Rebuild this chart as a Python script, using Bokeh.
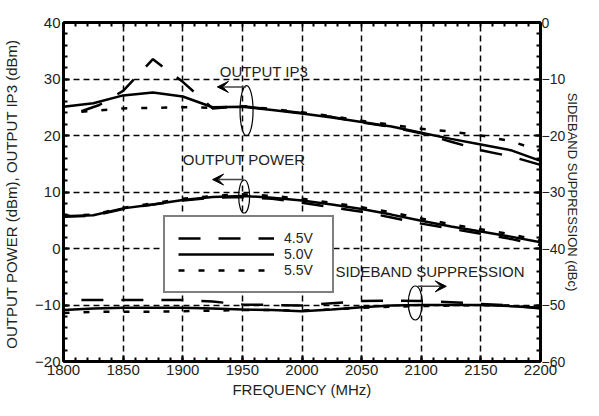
from bokeh.plotting import figure
from bokeh.models import (Range1d, LinearAxis, SingleIntervalTicker, FixedTicker, Legend, LegendItem,
                          Label, Arrow, VeeHead)
from bokeh.embed import file_html
from bokeh.resources import INLINE

FONT = "Liberation Sans"
TXT = "#231f20"

# ---------------- data ----------------
freq = [1800, 1825, 1850, 1875, 1900, 1925, 1950, 1975, 2000, 2025, 2050, 2075, 2100, 2125, 2150, 2175, 2200]

ip3_50 = [25.1, 25.7, 27.1, 27.6, 26.9, 25.0, 25.1, 24.5, 23.9, 23.2, 22.4, 21.6, 20.5, 19.4, 18.4, 17.4, 15.5]
freq_ip3_45 = [1815, 1830, 1850, 1875, 1900, 1925, 1950, 1975, 2000, 2025, 2050, 2075, 2100, 2125, 2150, 2175, 2200]
ip3_45 = [24.3, 25.4, 27.9, 33.5, 29.5, 24.8, 25.2, 24.6, 24.0, 23.3, 22.3, 21.5, 20.4, 18.9, 17.4, 16.3, 14.8]
freq_ip3_55 = [1815, 1850, 1875, 1900, 1925, 1950, 1975, 2000, 2025, 2050, 2075, 2100, 2125, 2150, 2175, 2200]
ip3_55 = [24.2, 24.8, 24.9, 25.0, 24.9, 25.2, 24.7, 24.1, 23.4, 22.6, 21.9, 21.2, 20.7, 20.0, 19.0, 17.3]

pout_50 = [5.7, 5.9, 7.1, 7.8, 8.6, 9.1, 9.3, 9.0, 8.5, 7.8, 7.0, 6.0, 4.9, 3.9, 3.0, 2.1, 1.1]
pout_45 = [5.6, 5.8, 7.0, 7.8, 8.5, 9.0, 9.1, 8.8, 8.1, 7.3, 6.5, 5.5, 4.4, 3.5, 2.6, 1.7, 0.6]
pout_55 = [5.8, 6.0, 7.2, 8.0, 8.8, 9.3, 9.6, 9.3, 8.8, 8.1, 7.3, 6.4, 5.3, 4.3, 3.4, 2.5, 1.4]

sb_50 = [-50.9, -50.6, -50.5, -50.5, -50.5, -50.6, -50.8, -50.9, -51.1, -50.8, -50.4, -50.1, -50.0, -50.0, -50.0, -50.2, -50.5]
freq_sb_45 = [1815, 1850, 1875, 1900, 1925, 1950, 1975, 2000, 2025, 2050, 2075, 2100, 2125, 2150, 2175, 2200]
sb_45 = [-49.1, -49.1, -49.1, -49.1, -49.4, -49.9, -50.0, -50.1, -49.7, -49.3, -49.2, -49.3, -49.5, -49.8, -50.1, -50.6]
sb_55 = [-51.4, -51.2, -51.2, -51.2, -51.1, -51.0, -50.9, -50.9, -51.0, -50.8, -50.5, -50.3, -50.2, -50.1, -50.0, -50.1, -50.4]

legend_labels = ["4.5V", "5.0V", "5.5V"]
top_ticks = list(range(1800, 2201, 10))

# annotations (data units, left axis)
ann_text = ["OUTPUT IP3", "OUTPUT POWER", "SIDEBAND SUPPRESSION"]
ann_x = [1931, 1900, 2028]
ann_y = [31.4, 15.7, -4.0]
arrow_x0 = [1953, 1951, 2097]
arrow_x1 = [1929, 1925, 2121]
arrow_y = [28.6, 12.2, -6.7]
ell_x = [1953.5, 1951.5, 2095]
ell_y = [24.4, 9.2, -9.65]
ell_w = [13, 11, 14]
ell_h = [50, 33, 34]

# ---------------- figure ----------------
p = figure(width=583, height=400, output_backend="svg", toolbar_location=None,
           x_range=Range1d(1800, 2200), y_range=Range1d(-20, 40),
           min_border_left=0, min_border_right=0, min_border_top=22, min_border_bottom=0,
           background_fill_color="white", border_fill_color="white")
p.extra_y_ranges = {"sb": Range1d(-60, 0)}
p.outline_line_color = "black"
p.outline_line_width = 2

bottom = p.below[0]
left = p.left[0]

xt = SingleIntervalTicker(interval=50, num_minor_ticks=5)
yt = SingleIntervalTicker(interval=10, num_minor_ticks=5)
yt2 = SingleIntervalTicker(interval=10, num_minor_ticks=5)

bottom.ticker = xt
left.ticker = yt
p.xgrid.ticker = xt
p.ygrid.ticker = yt

for g in (p.xgrid, p.ygrid):
    g.grid_line_color = "black"
    g.grid_line_dash = "6 4"
    g.grid_line_width = 1.5
    g.grid_line_alpha = 1.0

right = LinearAxis(y_range_name="sb", ticker=yt2, axis_label="SIDEBAND SUPPRESSION (dBc)")
top = LinearAxis(ticker=FixedTicker(ticks=[], minor_ticks=top_ticks))
p.add_layout(right, "right")
p.add_layout(top, "above")

bottom.axis_label = "FREQUENCY (MHz)"
left.axis_label = "OUTPUT POWER  (dBm), OUTPUT IP3 (dBm)"


def style(ax, size="15px"):
    ax.axis_line_width = 3
    ax.axis_line_color = "black"
    ax.major_tick_in = 6
    ax.major_tick_out = 0
    ax.major_tick_line_width = 2
    ax.minor_tick_in = 4
    ax.minor_tick_out = 0
    ax.minor_tick_line_width = 2
    ax.major_label_text_font = FONT
    ax.major_label_text_font_size = size
    ax.major_label_text_color = TXT
    ax.axis_label_text_font = FONT
    ax.axis_label_text_font_size = size
    ax.axis_label_text_font_style = "normal"
    ax.axis_label_text_color = TXT
    ax.major_label_standoff = 3
    ax.axis_label_standoff = 4


for ax in (bottom, left, right, top):
    style(ax)
left.axis_label_standoff = 12
bottom.axis_label_standoff = 3
bottom.major_label_standoff = 3
right.major_label_text_font_size = "14px"
right.major_label_standoff = 1
right.axis_label_text_font_size = "13px"
right.axis_label_standoff = -3

# ---------------- curves ----------------
LW = 2.5
D45 = "22 18"
D55 = "6 14"

r45 = p.line(freq_ip3_45, ip3_45, line_color="black", line_width=LW, line_dash=D45)
r50 = p.line(freq, ip3_50, line_color="black", line_width=LW)
r55 = p.line(freq_ip3_55, ip3_55, line_color="black", line_width=LW, line_dash=D55)

p.line(freq, pout_45, line_color="black", line_width=LW, line_dash=D45)
p.line(freq, pout_50, line_color="black", line_width=LW)
p.line(freq, pout_55, line_color="black", line_width=LW, line_dash=D55)

p.line(freq_sb_45, sb_45, line_color="black", line_width=LW, line_dash=D45, y_range_name="sb")
p.line(freq, sb_50, line_color="black", line_width=LW, y_range_name="sb")
p.line(freq, sb_55, line_color="black", line_width=LW, line_dash=D55, y_range_name="sb")

# ---------------- annotations ----------------
for t, x, y in zip(ann_text, ann_x, ann_y):
    p.add_layout(Label(x=x, y=y, text=t, text_baseline="middle", text_align="left",
                       text_font=FONT, text_font_size="15px", text_color=TXT))

for x0, x1, y in zip(arrow_x0, arrow_x1, arrow_y):
    p.add_layout(Arrow(end=VeeHead(size=11, fill_color="black", line_color="black", line_width=1),
                       x_start=x0, y_start=y, x_end=x1, y_end=y,
                       line_color="#444444", line_width=1.5))

p.ellipse(x=ell_x, y=ell_y, width=ell_w, height=ell_h, width_units="screen",
          height_units="screen", fill_color=None, line_color="black", line_width=1.2)

# ---------------- legend ----------------
legend = Legend(items=[LegendItem(label=legend_labels[0], renderers=[r45]),
                       LegendItem(label=legend_labels[1], renderers=[r50]),
                       LegendItem(label=legend_labels[2], renderers=[r55])],
                location=(100, 68), margin=0, padding=13, spacing=0,
                glyph_width=96, glyph_height=16, label_height=16, label_width=35,
                label_standoff=10, label_text_font=FONT, label_text_font_size="14px",
                label_text_line_height=1.0,
                label_text_color=TXT, border_line_color="black", border_line_width=2,
                background_fill_color="white", background_fill_alpha=1.0)
p.add_layout(legend)

open("out.html", "w").write(file_html(p, INLINE))
